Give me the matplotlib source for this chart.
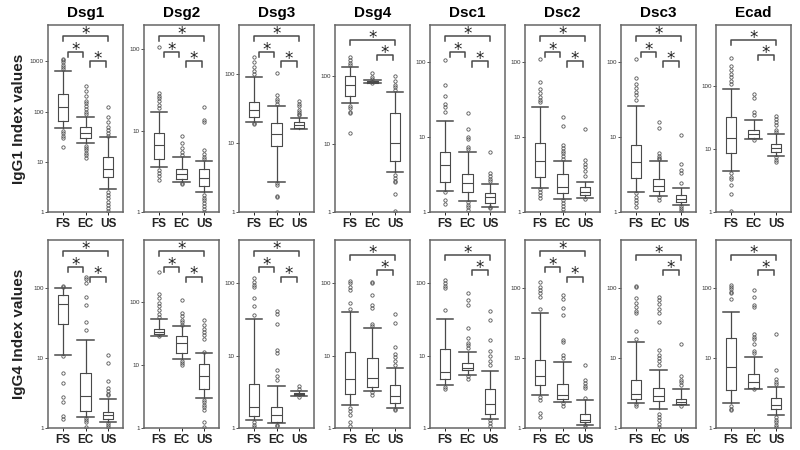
import matplotlib
matplotlib.use("Agg")
import matplotlib.pyplot as plt
from matplotlib.ticker import FixedLocator, FuncFormatter, NullLocator

plt.rcParams["font.family"] = ["Liberation Sans", "DejaVu Sans"]

antigens = ["Dsg1", "Dsg2", "Dsg3", "Dsg4", "Dsc1", "Dsc2", "Dsc3", "Ecad"]
groups = ["FS", "EC", "US"]

# IgG1 row: per antigen [FS, EC, US]
igg1_lo = [[47.7, 23.3, 2.9], [3.53, 2.37, 1.75], [20.2, 2.75, 16], [40.1, 80, 3.85],
           [1.92, 1.42, 1.18], [2.06, 1.47, 1.55], [1.86, 1.63, 1.24], [4.49, 14.3, 7.75]]
igg1_q1 = [[65.8, 29.3, 5.05], [4.55, 2.55, 2.09], [24.1, 9.05, 16.7], [52.1, 80.5, 5.62],
           [2.48, 1.86, 1.33], [2.95, 1.81, 1.68], [2.8, 1.92, 1.36], [8.67, 15, 8.89]]
igg1_med = [[121, 36.8, 7.07], [6.59, 2.94, 2.6], [30.1, 13.5, 18.2], [75.2, 84.3, 10.5],
            [4.22, 2.43, 1.57], [4.82, 2.17, 1.86], [4.58, 2.22, 1.5], [15, 17.6, 10.3]]
igg1_q3 = [[220, 50, 12.6], [9.36, 3.36, 3.36], [38.9, 19.3, 20.4], [103, 87.2, 29.4],
           [6.22, 3.2, 1.81], [8.36, 3.2, 2.13], [7.79, 2.72, 1.68], [32.7, 19.9, 12.1]]
igg1_hi = [[641, 79, 30.6], [17, 4.73, 4.26], [91.5, 34.8, 23.3], [138, 88.5, 58.4],
           [16.2, 6.35, 2.36], [25.2, 4.82, 2.51], [25.7, 4.77, 2.06], [90.5, 29.6, 17.2]]
igg1_out = [
    [[700, 780, 860, 950, 1050, 1100, 41, 37, 33, 30, 20],
     [90, 100, 115, 130, 150, 160, 200, 260, 330, 21, 19, 17, 15, 13.5, 12],
     [33, 37, 42, 50, 63, 79, 125, 2.5, 2.2, 1.9, 1.6, 1.4, 1.2, 1.05]],
    [[19, 21, 23, 25, 27, 29, 107, 3.3, 3.0, 2.8, 2.5],
     [5.0, 5.5, 6.2, 7.0, 8.7, 2.3, 2.2],
     [4.5, 4.8, 5.2, 5.8, 12.7, 13.4, 19.6, 1.6, 1.5, 1.4, 1.3, 1.2, 1.1, 1.0]],
    [[100, 110, 125, 150, 178, 19.5, 18.8],
     [36.7, 40, 43, 49.6, 102, 2.6, 2.5, 1.7, 1.63, 1.0],
     [25, 26, 28, 30, 34, 37, 40]],
    [[150, 160, 175, 194, 37, 34, 30, 29, 14.8],
     [93, 98, 113, 79.5],
     [63, 70, 75, 85, 100, 3.5, 3.2, 2.9, 2.8, 1.85, 1.05]],
    [[21.2, 24.7, 27.3, 34.4, 48.9, 105, 1.86, 1.44, 1.27],
     [6.8, 7.4, 9.4, 10, 12.7, 21, 1.37, 1.25, 1.15, 1.05],
     [2.55, 2.75, 3.0, 3.33, 6.22, 1.15, 1.12]],
    [[29, 31, 34, 38, 42.7, 54.2, 107, 2.0, 1.85, 1.7, 1.55],
     [5.0, 5.5, 6.0, 6.5, 7.2, 7.9, 13.9, 18.5, 1.44, 1.3, 1.2, 1.1, 1.0],
     [3.0, 3.5, 4.0, 4.4, 4.9, 12.6, 1.47]],
    [[31, 36, 40, 45, 51, 60, 107, 1.77, 1.6, 1.45, 1.3, 1.18],
     [5.0, 5.2, 5.6, 6.0, 13, 15.6, 1.57, 1.45],
     [2.45, 3.3, 3.6, 4.3, 10.6, 1.2, 1.12, 1.05, 1.0]],
    [[110, 120, 140, 160, 180, 212, 280, 4.2, 3.6, 3.3, 2.67, 1.93, 1.04],
     [35, 39, 65, 75.2, 14],
     [18.5, 20, 24, 27, 30, 34, 7.4, 6.8, 6.2]],
]
igg1_ymax = [5300, 200, 510, 575, 307, 307, 307, 950]
igg1_sig = [3, 3, 3, 2, 3, 3, 3, 2]

# IgG4 row
igg4_lo = [[11, 1.44, 1.22], [29, 12.3, 2.94], [1.28, 1.17, 2.75], [2.06, 3.26, 1.91],
           [3.9, 5.48, 1.35], [2.94, 2.36, 1.12], [2.31, 1.85, 2.12], [2.28, 3.67, 1.52]]
igg4_q1 = [[30.8, 1.75, 1.33], [30.9, 15.4, 4.09], [1.47, 1.21, 2.84], [2.99, 3.7, 2.24],
           [4.72, 6.3, 1.58], [4.1, 2.64, 1.22], [2.64, 2.41, 2.19], [3.55, 3.79, 1.85]]
igg4_med = [[59.6, 2.85, 1.52], [33.2, 22.2, 6.67], [1.93, 1.5, 2.96], [4.83, 4.93, 2.75],
            [5.97, 6.78, 2.13], [5.52, 3.01, 1.29], [3.11, 2.88, 2.36], [7.51, 4.57, 2.12]]
igg4_q3 = [[80.2, 6.22, 1.7], [37.1, 28.3, 10.2], [4.11, 1.95, 3.09], [11.3, 9.43, 3.98],
           [12.3, 7.96, 3.43], [9.57, 4.33, 1.61], [4.94, 3.75, 2.58], [19.8, 5.89, 2.72]]
igg4_hi = [[103, 18.1, 2.64], [54.2, 40.9, 15.4], [32.4, 3.82, 3.26], [40.5, 23.8, 6.78],
           [31.7, 11.3, 6.17], [43.8, 8.86, 2.5], [16.8, 6.73, 3.67], [45.3, 10.5, 3.88]]
igg4_out = [
    [[105, 107, 10.7, 6.1, 4.47, 2.78, 2.36, 1.49, 1.36],
     [25, 33, 57.6, 76, 119, 137, 147, 1.39, 1.3, 1.2, 1.05],
     [2.95, 3.1, 3.4, 3.7, 4.73, 8.6, 11, 1.19, 1.1, 1.03]],
    [[58, 65, 75, 85, 95, 113, 134, 301, 28.4],
     [43, 47, 52, 59, 67, 105, 11.5, 10.6, 9.9],
     [16, 26, 30, 33, 37, 43.5, 52.2, 2.77, 2.55, 2.35, 2.15, 1.95, 1.25, 1.04]],
    [[37, 48.5, 63, 88, 95, 105, 117, 1.2, 1.1, 1.03],
     [4.6, 5.3, 6.3, 11, 12, 27, 38, 41, 1.11, 1.07],
     [3.5, 3.82, 2.7]],
    [[44, 52.8, 80, 90, 100, 108, 1.89, 1.7, 1.5, 1.2, 1.05],
     [26, 27, 45, 50, 69, 100, 105, 3.15, 2.85],
     [7.4, 8.5, 9.5, 10.7, 13.3, 28, 37.2, 1.85, 1.77]],
    [[42.7, 85, 92, 102, 111, 3.7, 3.5],
     [12.6, 13.9, 15, 17.3, 24.4, 50, 58, 72.7, 5.26, 4.72],
     [7.4, 8.5, 10, 11.5, 16.4, 31, 41.4, 1.28, 1.18, 1.05]],
    [[51, 75, 85, 95, 105, 125, 2.8, 2.5, 1.66, 1.44],
     [10, 11, 17, 18.2, 42, 52, 70, 80, 2.3, 2.1],
     [2.7, 3.7, 4.0, 4.4, 4.8, 8.1, 1.09, 1.03]],
    [[18.7, 24.7, 44, 48, 55, 62, 74, 105, 107, 2.2, 2.1],
     [8, 9, 10, 11, 13, 33, 45, 50, 60, 68, 76, 1.6, 1.45, 1.3, 1.15, 1.05],
     [4.1, 4.5, 4.9, 5.6, 16.2, 2.07]],
    [[70, 85, 90, 98, 105, 112, 2.1, 1.9, 1.8],
     [12, 12.5, 16.2, 19, 20, 22.5, 55, 58, 76, 94.6, 3.6],
     [4.3, 4.6, 5.1, 6.87, 22.1, 1.44, 1.3, 1.2, 1.1, 1.03]],
]
igg4_ymax = [494, 950, 398, 398, 398, 494, 494, 494]
igg4_sig = [3, 3, 3, 2, 2, 3, 2, 2]

line_col = "#4a4a4a"
bracket_sets = {
    3: [(1.0, 3.0, 0.94), (1.2, 1.88, 0.855), (2.2, 2.9, 0.805)],
    2: [(1.0, 3.0, 0.92), (2.2, 2.9, 0.84)],
}


def draw_panel(ax, lo, q1, med, q3, hi, out, ymax, nsig):
    stats = []
    for i in range(3):
        stats.append(dict(whislo=lo[i], q1=q1[i], med=med[i], q3=q3[i],
                          whishi=hi[i], fliers=out[i], label=groups[i]))
    ax.set_yscale("log")
    ax.bxp(stats, positions=[1, 2, 3], widths=0.48, capwidths=0.72,
           boxprops=dict(color=line_col, lw=0.8),
           whiskerprops=dict(color=line_col, lw=0.9),
           capprops=dict(color=line_col, lw=1.1),
           medianprops=dict(color=line_col, lw=0.8),
           flierprops=dict(marker="o", markersize=2.4, markerfacecolor="none",
                           markeredgecolor="#555555", markeredgewidth=0.6))
    ax.set_xlim(0.33, 3.67)
    ax.set_ylim(1, ymax)

    ticks = [t for t in [1, 10, 100, 1000] if t <= ymax]
    ax.yaxis.set_major_locator(FixedLocator(ticks))
    ax.yaxis.set_minor_locator(NullLocator())
    ax.yaxis.set_major_formatter(FuncFormatter(lambda v, p: f"{v:g}"))
    ax.tick_params(axis="y", labelsize=4.5, length=2, width=0.6, pad=1,
                   colors="#333333")
    ax.tick_params(axis="x", labelsize=8.5, length=2, width=0.6, pad=2)
    for lab in ax.get_xticklabels():
        lab.set_fontweight("bold")
        lab.set_color("#222222")
    for sp in ax.spines.values():
        sp.set_color("#666666")
        sp.set_linewidth(1.1)

    # significance brackets
    trans = ax.get_xaxis_transform()
    for x1, x2, y in bracket_sets[nsig]:
        ax.plot([x1, x1, x2, x2], [y - 0.027, y, y, y - 0.027], color=line_col,
                lw=1.1, transform=trans, clip_on=False)
        ax.text((x1 + x2) / 2, y + 0.012, "*", ha="center", va="center",
                fontsize=12, family="DejaVu Sans", color="#222222", transform=trans)


fig = plt.figure(figsize=(8, 4.5), dpi=100)

lefts = [48, 144, 239, 335, 430, 525, 621, 716]
rows = [
    (25, 212, igg1_lo, igg1_q1, igg1_med, igg1_q3, igg1_hi, igg1_out, igg1_ymax, igg1_sig,
     "IgG1 Index values"),
    (240, 428, igg4_lo, igg4_q1, igg4_med, igg4_q3, igg4_hi, igg4_out, igg4_ymax, igg4_sig,
     "IgG4 Index values"),
]

for r, (top, bot, lo, q1, med, q3, hi, out, ymax, sig, ylab) in enumerate(rows):
    for j, name in enumerate(antigens):
        ax = fig.add_axes([lefts[j] / 800, 1 - bot / 450, 75 / 800, (bot - top) / 450])
        draw_panel(ax, lo[j], q1[j], med[j], q3[j], hi[j], out[j], ymax[j], sig[j])
        if r == 0:
            ax.set_title(name, fontsize=11, fontweight="bold", pad=6)
    fig.text(0.024, 1 - (top + bot) / 2 / 450, ylab, rotation=90, ha="center",
             va="center", fontsize=11, fontweight="bold", color="#222222")

fig.savefig("out.png", dpi=100)
